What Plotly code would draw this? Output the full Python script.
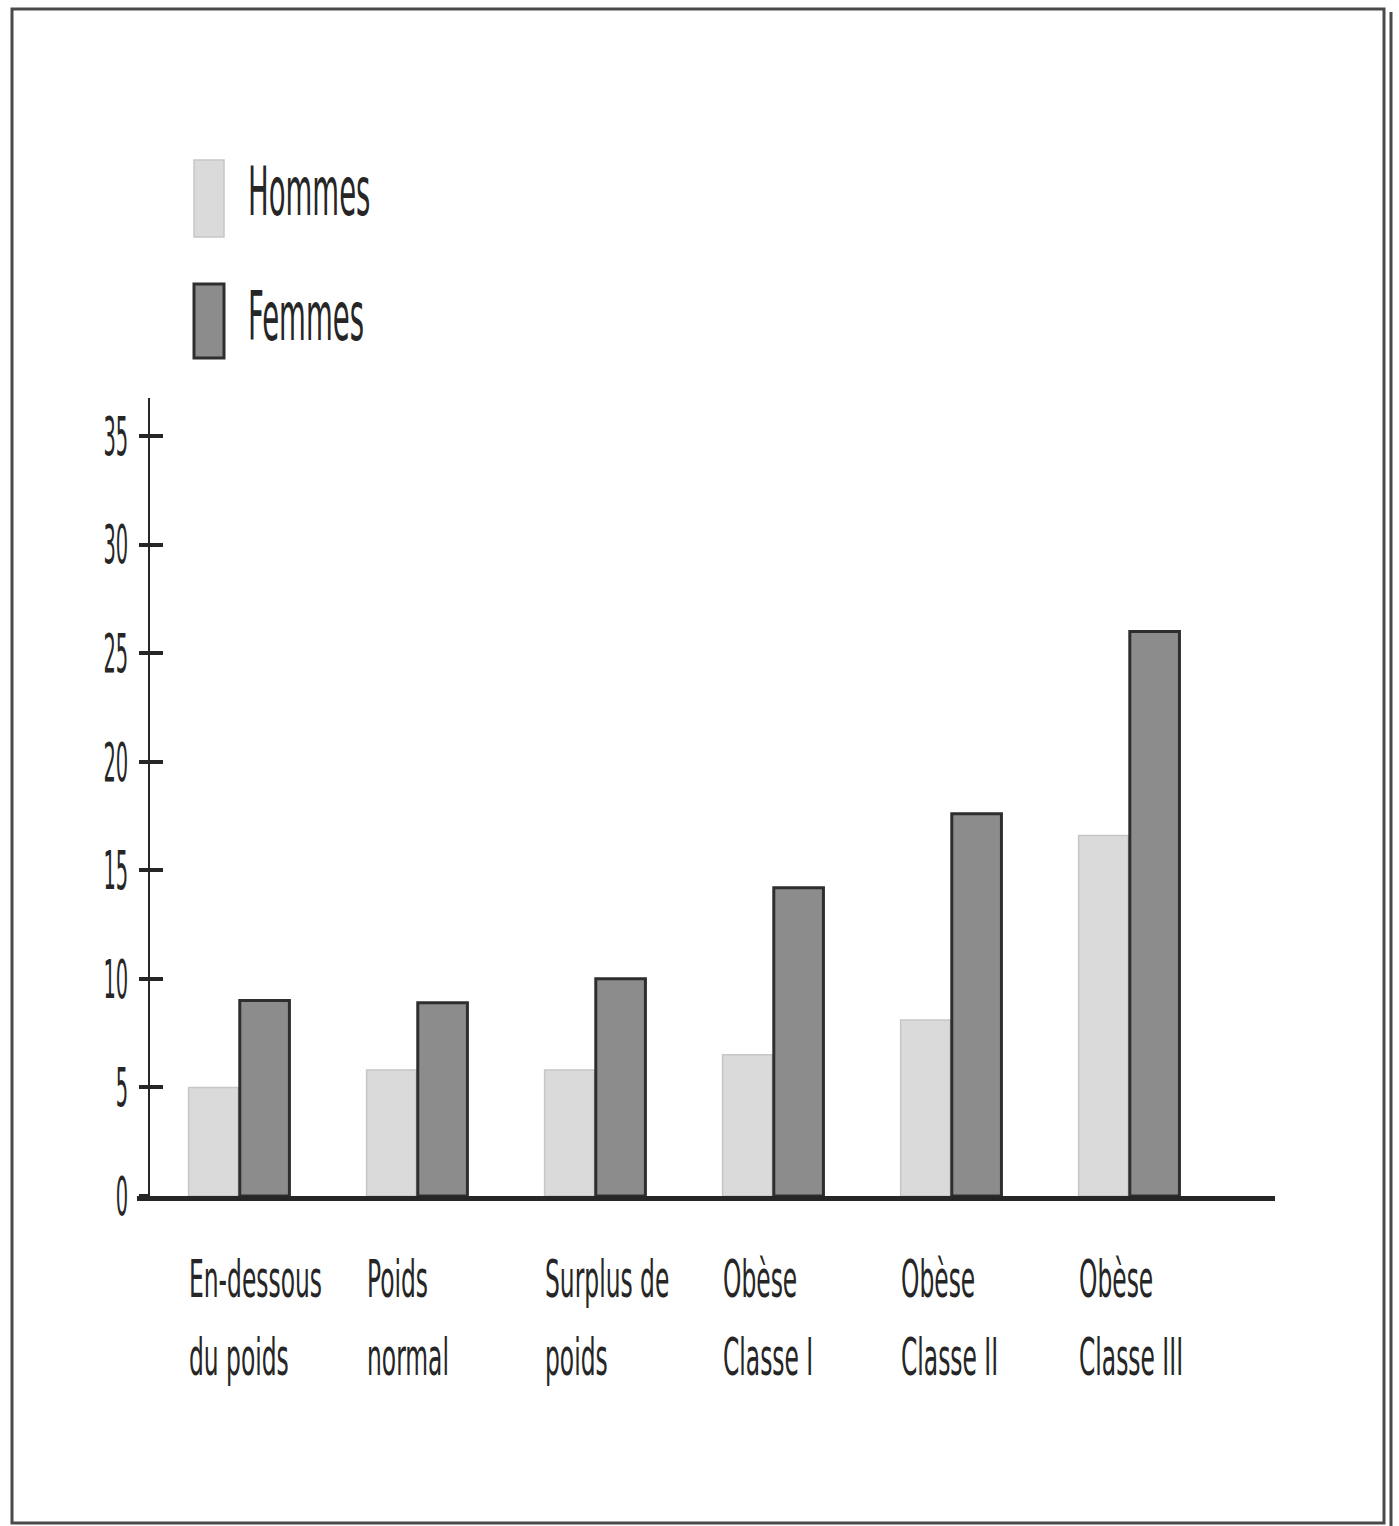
import json
import plotly.graph_objects as go

# Category labels (two lines each) and series values (%)
label_line1 = ["En-dessous", "Poids", "Surplus de", "Obèse", "Obèse", "Obèse"]
label_line2 = ["du poids", "normal", "poids", "Classe I", "Classe II", "Classe III"]
categories = [f"{a} {b}" for a, b in zip(label_line1, label_line2)]

hommes = [5.0, 5.8, 5.8, 6.5, 8.1, 16.6]
femmes = [9.0, 8.9, 10.0, 14.2, 17.6, 26.0]

y_ticks = [0, 5, 10, 15, 20, 25, 30, 35]
series_names = ["Hommes", "Femmes"]

W, H = 1399, 1526
L, R, T, B = 137, 1275, 398, 1196  # plot area in pixels


def px_x(x):
    return (x - L) / (R - L)


def px_y(y):
    return (B - y) / (B - T)


FONT = "DejaVu Sans Condensed, DejaVu Sans, sans-serif"
INK = "#262626"
LIGHT_FILL, LIGHT_LINE = "#dadada", "#c6c6c6"
DARK_FILL, DARK_LINE = "#8c8c8c", "#2e2e2e"

# horizontal squeeze applied to each text group (tall, narrow lettering)
SQUEEZE_TICKS = 0.40
SQUEEZE_CATS = 0.50
SQUEEZE_LEGEND = 0.45

fig = go.Figure()
fig.add_trace(go.Bar(
    x=categories, y=hommes, name=series_names[0],
    marker=dict(color=LIGHT_FILL, line=dict(color=LIGHT_LINE, width=1.5)),
))
fig.add_trace(go.Bar(
    x=categories, y=femmes, name=series_names[1],
    marker=dict(color=DARK_FILL, line=dict(color=DARK_LINE, width=3)),
))

axis_pos = px_x(149)
fig.update_layout(
    width=W, height=H,
    margin=dict(l=L, r=W - R, t=T, b=H - B, pad=0),
    paper_bgcolor="white", plot_bgcolor="white",
    showlegend=False,
    barmode="group", bargap=0.425, bargroupgap=0.03,
    font=dict(family=FONT, color=INK),
    xaxis=dict(
        type="category", range=[-0.573, 5.82],
        showticklabels=False, ticks="", showgrid=False, zeroline=False,
        showline=True, linecolor=INK, linewidth=5,
    ),
    yaxis=dict(
        range=[0, 36.75], anchor="free", position=axis_pos,
        tickvals=y_ticks, ticktext=[str(v) for v in y_ticks],
        ticks="outside", ticklen=9, tickwidth=4, tickcolor=INK,
        tickfont=dict(family=FONT, size=54, color=INK),
        showline=True, linecolor=INK, linewidth=2,
        showgrid=False, zeroline=False, automargin=False,
    ),
    yaxis2=dict(
        range=[0, 36.75], anchor="free", position=axis_pos, overlaying="y",
        tickvals=y_ticks, showticklabels=False,
        ticks="inside", ticklen=13, tickwidth=4, tickcolor=INK,
        showline=False, showgrid=False, zeroline=False,
    ),
)
# invisible helper trace so the second axis (inside tick halves) is drawn
fig.add_trace(go.Scatter(x=[categories[0]], y=[0], yaxis="y2", mode="markers",
                         marker=dict(opacity=0), hoverinfo="skip", showlegend=False))

annotations = []
squeeze = []
shapes = []

# two-line category labels, left-aligned with the first bar of each group
for cat, l1, l2 in zip(categories, label_line1, label_line2):
    for text, top in ((l1, 1247), (l2, 1325)):
        annotations.append(dict(
            x=cat, xref="x", xanchor="left", xshift=-52,
            y=px_y(top), yref="paper", yanchor="top",
            text=text, showarrow=False,
            font=dict(family=FONT, size=52, color=INK),
        ))
        squeeze.append(SQUEEZE_CATS)

# legend: tall swatches with labels
legend_rows = [
    (series_names[0], LIGHT_FILL, LIGHT_LINE, 1.5, 160, 237, 150),
    (series_names[1], DARK_FILL, DARK_LINE, 3, 284, 358, 275),
]
for name, fill, line, lw, y0, y1, ty in legend_rows:
    shapes.append(dict(
        type="rect", xref="paper", yref="paper",
        x0=px_x(194), x1=px_x(224), y0=px_y(y1), y1=px_y(y0),
        fillcolor=fill, line=dict(color=line, width=lw),
    ))
    annotations.append(dict(
        x=px_x(246), xref="paper", xanchor="left",
        y=px_y(ty), yref="paper", yanchor="top",
        text=name, showarrow=False,
        font=dict(family=FONT, size=68, color=INK),
    ))
    squeeze.append(SQUEEZE_LEGEND)

# page frame
shapes.append(dict(type="rect", xref="paper", yref="paper",
                   x0=px_x(12), x1=px_x(1384), y0=px_y(1523), y1=px_y(9),
                   line=dict(color="#4a4a4a", width=3)))
shapes.append(dict(type="line", xref="paper", yref="paper",
                   x0=px_x(1391), x1=px_x(1391), y0=px_y(1526), y1=px_y(12),
                   line=dict(color="#4a4a4a", width=3)))

fig.update_layout(annotations=annotations, shapes=shapes)

# narrow the lettering horizontally, keeping each label's anchored edge fixed
post_js = """
(function(){
  var gd = document.getElementById('{plot_id}');
  var sq = %s;
  function squeezeText(t, f, edge){
    var bb = t.getBBox();
    var ox = edge === 'right' ? bb.x + bb.width : bb.x;
    var prev = t.getAttribute('transform') || '';
    t.setAttribute('transform', prev + ' translate(' + ox + ',0) scale(' + f + ',1) translate(' + (-ox) + ',0)');
  }
  gd.querySelectorAll('g.annotation').forEach(function(g){
    var i = parseInt(g.getAttribute('data-index'));
    var t = g.querySelector('text.annotation-text');
    if (t && !isNaN(i)) squeezeText(t, sq[i], 'left');
  });
  gd.querySelectorAll('g.ytick text').forEach(function(t){
    squeezeText(t, %s, 'right');
  });
})();
""" % (json.dumps(squeeze), SQUEEZE_TICKS)

fig.write_html("out.html", post_script=post_js)
